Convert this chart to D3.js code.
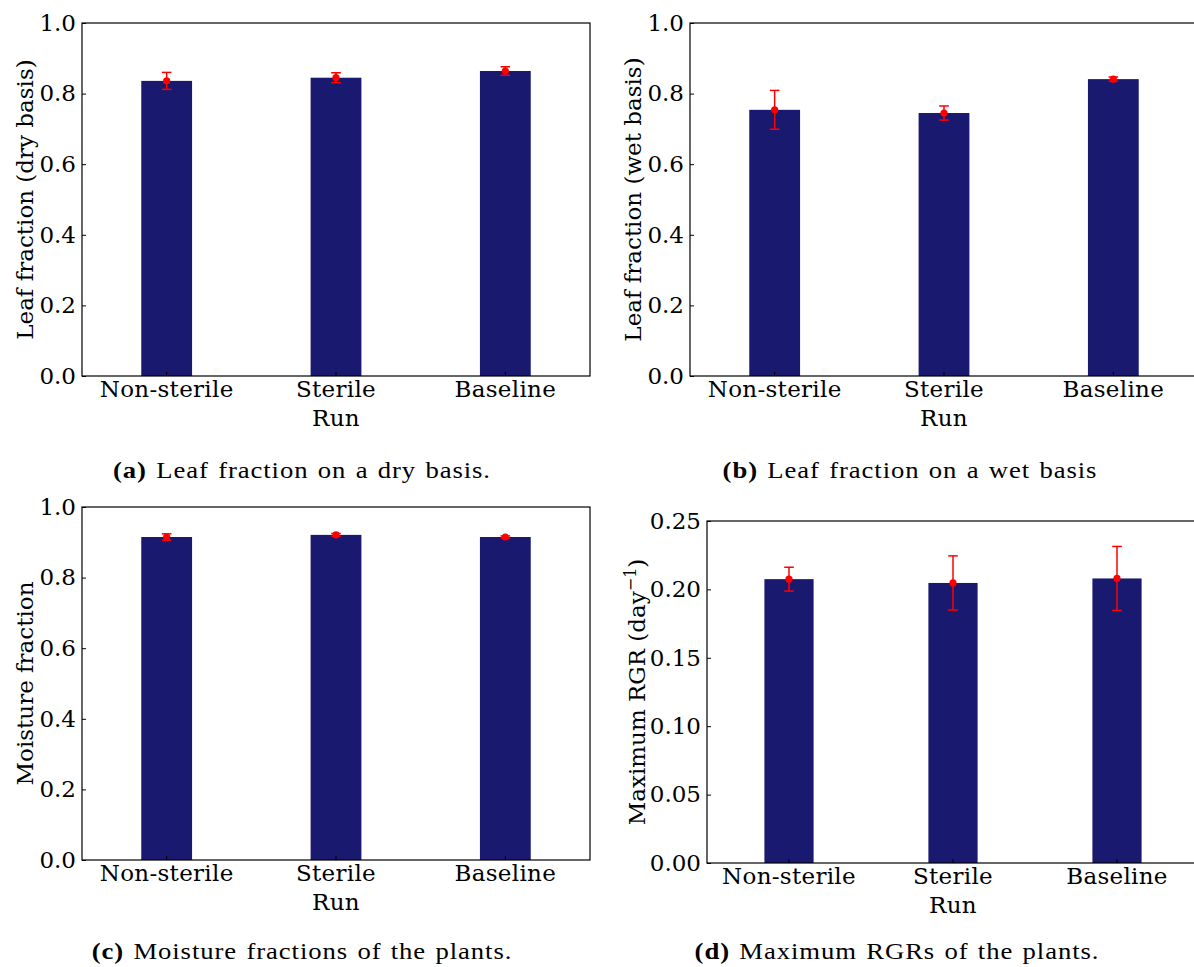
<!DOCTYPE html>
<html>
<head>
<meta charset="utf-8">
<script src="https://cdn.jsdelivr.net/npm/d3@7"></script>
<style>
  html, body { margin: 0; padding: 0; background: #fff; }
  svg { display: block; }
</style>
</head>
<body>
<svg id="chart" width="1194" height="967"></svg>
<script>
// ---------- data ----------
const categories = ["Non-sterile", "Sterile", "Baseline"];

const dryMeans = [0.836, 0.845, 0.864];
const dryErrors = [0.024, 0.014, 0.012];

const wetMeans = [0.754, 0.745, 0.841];
const wetErrors = [0.055, 0.020, 0.006];

const moistureMeans = [0.915, 0.921, 0.915];
const moistureErrors = [0.009, 0.004, 0.003];

const rgrMeans = [0.2075, 0.2047, 0.2080];
const rgrErrors = [0.0087, 0.0198, 0.0234];

const fractionTicks = [0.0, 0.2, 0.4, 0.6, 0.8, 1.0];
const rgrTicks = [0.00, 0.05, 0.10, 0.15, 0.20, 0.25];

const xAxisLabel = "Run";

// ---------- drawing ----------
const svg = d3.select("#chart");
const axisFont = "'DejaVu Serif', serif";
const captionFont = "'Liberation Serif', 'Times New Roman', serif";
const BAR = "#191970";
const ERR = "#ff0000";

function drawPanel(p) {
  const g = svg.append("g").attr("transform", `translate(${p.left},${p.top})`);
  const w = p.width, h = p.height;

  const x = d3.scaleBand().domain(categories).range([0, w])
    .paddingInner(0.7).paddingOuter(0.35);
  const y = d3.scaleLinear().domain(p.domain).range([h, 0]);

  // bars
  g.selectAll("rect.bar").data(p.means).join("rect")
    .attr("class", "bar")
    .attr("x", (d, i) => x(categories[i]))
    .attr("width", x.bandwidth())
    .attr("y", d => y(d))
    .attr("height", d => y(p.domain[0]) - y(d))
    .attr("fill", BAR);

  // error bars
  const cx = i => x(categories[i]) + x.bandwidth() / 2;
  const eb = g.selectAll("g.err").data(p.means).join("g").attr("class", "err");
  eb.append("line")
    .attr("x1", (d, i) => cx(i)).attr("x2", (d, i) => cx(i))
    .attr("y1", (d, i) => y(d - p.errors[i])).attr("y2", (d, i) => y(d + p.errors[i]))
    .attr("stroke", ERR).attr("stroke-width", 1.5);
  [-1, 1].forEach(s => {
    eb.append("line")
      .attr("x1", (d, i) => cx(i) - 4.8).attr("x2", (d, i) => cx(i) + 4.8)
      .attr("y1", (d, i) => y(d + s * p.errors[i])).attr("y2", (d, i) => y(d + s * p.errors[i]))
      .attr("stroke", ERR).attr("stroke-width", 1.5);
  });
  eb.append("circle")
    .attr("cx", (d, i) => cx(i)).attr("cy", d => y(d)).attr("r", 3.6)
    .attr("fill", ERR);

  // axes (ticks pointing inward)
  const yAxis = d3.axisLeft(y).tickValues(p.ticks).tickFormat(d3.format(p.fmt))
    .tickSizeInner(-4).tickSizeOuter(0).tickPadding(6);
  const ya = g.append("g").call(yAxis);
  const xAxis = d3.axisBottom(x).tickSizeInner(-4).tickSizeOuter(0).tickPadding(5);
  const xa = g.append("g").attr("transform", `translate(0,${h})`).call(xAxis);
  [ya, xa].forEach(a => {
    a.select(".domain").remove();
    a.selectAll("line").attr("stroke", "#000");
    a.selectAll("text").attr("font-family", axisFont).attr("font-size", 23)
      .attr("fill", "#000");
  });
  xa.selectAll("text").attr("letter-spacing", 0.3);

  // frame
  g.append("rect").attr("x", 0).attr("y", 0).attr("width", w).attr("height", h)
    .attr("fill", "none").attr("stroke", "#000").attr("stroke-width", 1.2);

  // x axis label
  g.append("text").attr("x", w / 2).attr("y", h + 50)
    .attr("text-anchor", "middle").attr("font-family", axisFont).attr("font-size", 23)
    .attr("letter-spacing", 0.3)
    .text(xAxisLabel);

  // y axis label
  const yl = g.append("text")
    .attr("transform", `translate(${p.ylabelX},${h / 2}) rotate(-90)`)
    .attr("text-anchor", "middle").attr("font-family", axisFont).attr("font-size", 23);
  yl.append("tspan").text(p.ylabel);
  if (p.ylabelSup) {
    yl.append("tspan").attr("font-size", 16).attr("dy", -9).text(p.ylabelSup);
    yl.append("tspan").attr("dy", 9).text(p.ylabelEnd);
  }

  // caption (horizontally widened serif to mimic Computer Modern proportions)
  const cap = svg.append("text")
    .attr("transform", `translate(${p.capX},${p.capY}) scale(1.16,1)`)
    .attr("text-anchor", "middle").attr("font-family", captionFont)
    .attr("font-size", 23).attr("letter-spacing", 0.8).attr("word-spacing", 1.5);
  cap.append("tspan").attr("font-weight", "bold").text(p.capTag);
  cap.append("tspan").text(" " + p.caption);
}

drawPanel({
  left: 82, top: 23, width: 508, height: 353,
  domain: [0, 1], ticks: fractionTicks, fmt: ".1f",
  means: dryMeans, errors: dryErrors,
  ylabel: "Leaf fraction (dry basis)", ylabelX: -49,
  capTag: "(a)", caption: "Leaf fraction on a dry basis.", capX: 302, capY: 478
});
drawPanel({
  left: 690, top: 23, width: 508, height: 353,
  domain: [0, 1], ticks: fractionTicks, fmt: ".1f",
  means: wetMeans, errors: wetErrors,
  ylabel: "Leaf fraction (wet basis)", ylabelX: -49,
  capTag: "(b)", caption: "Leaf fraction on a wet basis", capX: 910, capY: 478
});
drawPanel({
  left: 82, top: 507, width: 508, height: 353,
  domain: [0, 1], ticks: fractionTicks, fmt: ".1f",
  means: moistureMeans, errors: moistureErrors,
  ylabel: "Moisture fraction", ylabelX: -49,
  capTag: "(c)", caption: "Moisture fractions of the plants.", capX: 302, capY: 959
});
drawPanel({
  left: 707, top: 521, width: 492, height: 342,
  domain: [0, 0.25], ticks: rgrTicks, fmt: ".2f",
  means: rgrMeans, errors: rgrErrors,
  ylabel: "Maximum RGR (day", ylabelSup: "\u22121", ylabelEnd: ")", ylabelX: -62,
  capTag: "(d)", caption: "Maximum RGRs of the plants.", capX: 897, capY: 959
});
</script>
</body>
</html>
